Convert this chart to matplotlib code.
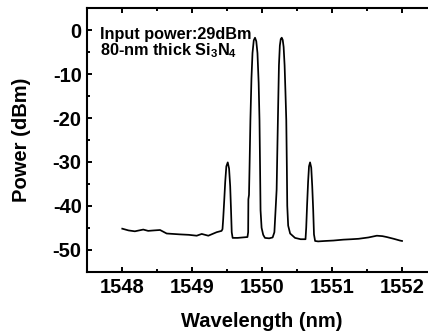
import matplotlib
matplotlib.use("Agg")
import matplotlib.pyplot as plt
from matplotlib.ticker import MultipleLocator

plt.rcParams['font.family'] = ['Liberation Sans', 'DejaVu Sans']
plt.rcParams['font.weight'] = 'bold'
plt.rcParams['axes.unicode_minus'] = False
plt.rcParams['mathtext.fontset'] = 'custom'
plt.rcParams['mathtext.rm'] = 'Liberation Sans:bold'
plt.rcParams['mathtext.bf'] = 'Liberation Sans:bold'
plt.rcParams['mathtext.it'] = 'Liberation Sans:bold'

wavelength = [1548.00, 1548.09, 1548.18, 1548.30, 1548.37, 1548.45, 1548.54, 1548.635,
              1548.73, 1548.825, 1548.95, 1549.064, 1549.136, 1549.23, 1549.35, 1549.42,
              1549.433, 1549.443, 1549.457, 1549.472, 1549.488, 1549.508, 1549.527, 1549.543,
              1549.555, 1549.565, 1549.578, 1549.65, 1549.72, 1549.79,
              1549.800, 1549.803, 1549.812, 1549.820, 1549.832, 1549.847, 1549.862, 1549.880,
              1549.898, 1549.916, 1549.933, 1549.950, 1549.962, 1549.970, 1549.977, 1549.992,
              1550.015, 1550.04, 1550.10, 1550.15, 1550.175, 1550.195, 1550.207, 1550.213,
              1550.225, 1550.240, 1550.253, 1550.266, 1550.280, 1550.294, 1550.307, 1550.321,
              1550.333, 1550.345, 1550.353, 1550.359, 1550.372, 1550.40, 1550.47, 1550.55,
              1550.62, 1550.630, 1550.642, 1550.657, 1550.670, 1550.685, 1550.702, 1550.716,
              1550.730, 1550.741, 1550.757, 1550.80, 1550.90, 1551.02, 1551.16, 1551.28,
              1551.38, 1551.52, 1551.64, 1551.72, 1551.78, 1551.88, 1551.97, 1552.00]
power = [-45.2, -45.6, -45.8, -45.4, -45.7, -45.6, -45.5, -46.3,
         -46.4, -46.5, -46.6, -46.8, -46.4, -46.8, -46.0, -45.7,
         -45.3, -43.0, -39.0, -34.5, -31.0, -30.1, -31.5, -35.5,
         -41.0, -46.0, -47.3, -47.3, -47.2, -47.1,
         -46.0, -38.5, -37.5, -31.0, -20.5, -11.0, -5.2, -2.3,
         -1.7, -2.5, -5.2, -12.0, -20.5, -31.0, -41.0, -45.0,
         -46.6, -47.3, -47.4, -47.2, -46.0, -40.0, -36.3, -31.0,
         -20.5, -8.0, -3.5, -2.0, -1.7, -2.2, -3.8, -8.0,
         -14.0, -20.5, -31.0, -40.0, -44.5, -46.3, -47.3, -47.6,
         -47.6, -45.0, -40.0, -34.5, -31.0, -30.1, -31.3, -35.5,
         -41.0, -46.5, -48.0, -48.1, -48.0, -47.9, -47.7, -47.6,
         -47.5, -47.2, -46.8, -46.9, -47.1, -47.5, -47.9, -48.0]

x_ticks = [1548, 1549, 1550, 1551, 1552]
y_ticks = [0, -10, -20, -30, -40, -50]

W, H = 428, 333
fig = plt.figure(figsize=(W / 100, H / 100), dpi=100)
left, right, bottom, top = 87.3, 437.0, 271.7, 8.3
ax = fig.add_axes([left / W, 1 - bottom / H, (right - left) / W, (bottom - top) / H])

ax.plot(wavelength, power, color='black', lw=1.25)
ax.set_xlim(1547.5, 1552.5)
ax.set_ylim(-55, 5)
ax.set_xticks(x_ticks)
ax.set_yticks(y_ticks)
ax.xaxis.set_minor_locator(MultipleLocator(0.5))
ax.yaxis.set_minor_locator(MultipleLocator(5))
ax.tick_params(which='both', direction='in', top=True, right=True, width=1.4,
               labelsize=14.5)
ax.tick_params(which='major', length=3.6)
ax.tick_params(which='minor', length=2.2)
ax.tick_params(axis='x', pad=4.5)
ax.tick_params(axis='y', pad=4.0)
for lab in ax.get_xticklabels() + ax.get_yticklabels():
    lab.set_fontweight('bold')
for s in ax.spines.values():
    s.set_linewidth(1.5)

fig.text(261.7 / W, 1 - 326.7 / H, 'Wavelength (nm)', ha='center', va='baseline',
         fontsize=14.5, fontweight='bold')
fig.text(22.0 / W, 1 - 140 / H, 'Power (dBm)', ha='center', va='center',
         rotation=90, fontsize=14.5, fontweight='bold')

ax.text(0.036, 0.884, 'Input power:29dBm', transform=ax.transAxes, ha='left',
        va='baseline', fontsize=11.7, fontweight='bold')
ax.text(0.036, 0.820, '80-nm thick Si$_3$N$_4$', transform=ax.transAxes, ha='left',
        va='baseline', fontsize=11.7, fontweight='bold')

fig.savefig('out.png', dpi=100)
